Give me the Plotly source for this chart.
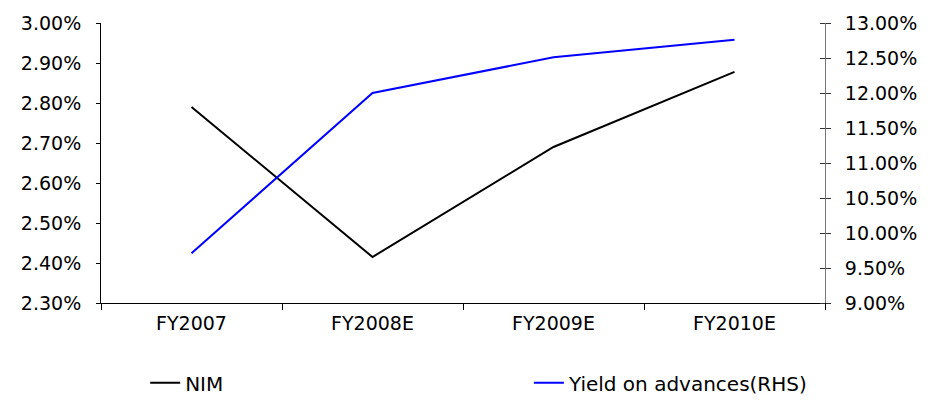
import plotly.graph_objects as go

categories = ["FY2007", "FY2008E", "FY2009E", "FY2010E"]
nim = [0.0279, 0.02415, 0.0269, 0.02878]
yield_adv = [0.0971, 0.1200, 0.1251, 0.1276]

left_ticks = [0.023, 0.024, 0.025, 0.026, 0.027, 0.028, 0.029, 0.030]
right_ticks = [0.09, 0.095, 0.10, 0.105, 0.11, 0.115, 0.12, 0.125, 0.13]

FONT = "DejaVu Sans"

fig = go.Figure()
fig.add_trace(go.Scatter(x=categories, y=nim, name="NIM", mode="lines", showlegend=True,
                         line=dict(color="black", width=2), yaxis="y", legend="legend"))
fig.add_trace(go.Scatter(x=categories, y=yield_adv, name="Yield on advances(RHS)", mode="lines",
                         showlegend=True,
                         line=dict(color="#0000FF", width=2), yaxis="y2", legend="legend2"))

fig.update_layout(
    width=935, height=402,
    margin=dict(l=93, r=118, t=15, b=107, autoexpand=False),
    showlegend=True,
    paper_bgcolor="white", plot_bgcolor="white",
    font=dict(family=FONT, size=18, color="black"),
    xaxis=dict(type="category", range=[-0.5, 3.5], showline=True, linecolor="black", linewidth=1,
               ticks="outside", ticklen=6, tickcolor="black", tickson="boundaries",
               showgrid=False, zeroline=False, ticklabelstandoff=3, automargin=False,
               tickfont=dict(family=FONT, size=19)),
    yaxis=dict(range=[0.023, 0.030], tickvals=left_ticks, tickformat=".2%",
               showline=True, linecolor="black", linewidth=1, ticks="outside", ticklen=4,
               tickcolor="black", showgrid=False, zeroline=False, ticklabelstandoff=11,
               automargin=False, tickfont=dict(family=FONT, size=19)),
    yaxis2=dict(range=[0.09, 0.13], tickvals=right_ticks, tickformat=".2%", overlaying="y",
                side="right", showline=True, linecolor="#777777", linewidth=1,
                ticks="outside", ticklen=5, tickcolor="#333333",
                minor=dict(tickvals=right_ticks, ticks="inside", ticklen=5, tickcolor="#333333"),
                showgrid=False, zeroline=False, ticklabelstandoff=10, automargin=False,
                tickfont=dict(family=FONT, size=19)),
    legend=dict(x=0.061, y=-0.285, xanchor="left", yanchor="middle", orientation="h",
                font=dict(family=FONT, size=20), bgcolor="rgba(0,0,0,0)"),
    legend2=dict(x=0.591, y=-0.285, xanchor="left", yanchor="middle", orientation="h",
                 font=dict(family=FONT, size=20), bgcolor="rgba(0,0,0,0)"),
)

fig.write_html("out.html")
